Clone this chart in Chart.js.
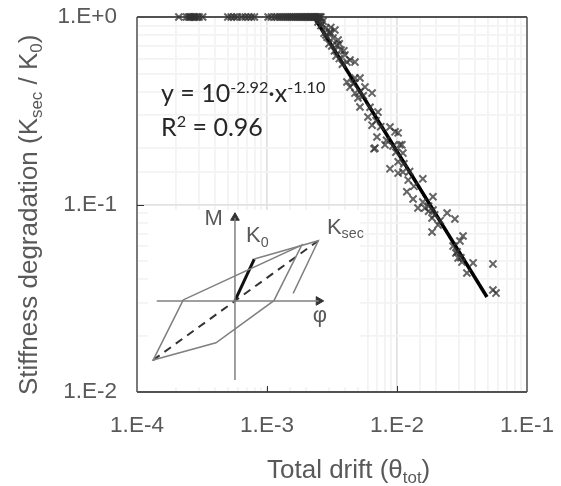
<!DOCTYPE html>
<html>
<head>
<meta charset="utf-8">
<title>Stiffness degradation</title>
<script src="https://cdn.jsdelivr.net/npm/chart.js@4"></script>
<style>
  html, body { margin: 0; padding: 0; background: #fff; }
  #wrap { position: relative; width: 561px; height: 486px; }
</style>
</head>
<body>
<div id="wrap"><canvas id="grafico" width="561" height="486"></canvas></div>
<script>
// drift values along the plateau (degradation = 1)
const plateauDrift = [2.1e-4, 2.4e-4, 2.5e-4, 2.55e-4, 2.6e-4, 2.7e-4, 2.75e-4, 2.8e-4, 2.9e-4, 3.0e-4, 3.2e-4,
  5.0e-4, 5.3e-4, 5.6e-4, 5.9e-4, 6.4e-4, 6.8e-4, 7.2e-4, 7.6e-4, 8.0e-4,
  1.02e-3, 1.08e-3, 1.15e-3, 1.2e-3, 1.25e-3, 1.3e-3, 1.35e-3, 1.4e-3, 1.45e-3, 1.5e-3, 1.55e-3, 1.6e-3, 1.65e-3, 1.7e-3, 1.75e-3, 1.8e-3, 1.85e-3, 1.9e-3, 1.95e-3, 2.0e-3, 2.05e-3, 2.1e-3, 2.15e-3, 2.2e-3, 2.25e-3, 2.3e-3, 2.35e-3, 2.4e-3, 2.45e-3, 2.5e-3, 2.55e-3, 2.6e-3];

// drift and degradation of the falling part, same order in both
const tailDrift = [2.47e-3, 2.65e-3, 2.84e-3, 3.05e-3, 3.22e-3, 3.33e-3, 2.84e-3, 3.05e-3, 3.45e-3, 3.52e-3, 3.71e-3, 3.98e-3, 4.35e-3,
  4.12e-3, 4.75e-3, 4.12e-3, 4.75e-3, 5.19e-3, 5.67e-3, 6.43e-3, 4.35e-3, 4.75e-3, 5.19e-3, 5.01e-3, 7.14e-3, 5.98e-3, 6.43e-3,
  8.83e-3, 9.66e-3, 7.01e-3, 6.77e-3, 8.09e-3, 0.0109, 0.0102, 0.0111, 6.65e-3, 9.31e-3, 0.0105, 0.0102, 8.83e-3, 0.0102, 0.0111,
  0.0122, 0.0158, 0.0119, 0.0133, 0.0189, 0.0158, 0.0145, 0.0164, 0.0189, 0.0186, 0.0207, 0.0186, 0.0243, 0.0279, 0.0322, 0.0305,
  0.0284, 0.0295, 0.0316, 0.0385, 0.0345, 0.0547, 0.0547, 0.0578,
  2.6e-3, 2.75e-3, 2.9e-3, 3.0e-3, 3.15e-3, 3.3e-3, 3.4e-3, 3.6e-3, 3.8e-3, 2.5e-3, 2.7e-3, 3.1e-3, 3.6e-3, 3.9e-3,
  5.2e-3, 5.5e-3, 4.6e-3, 6.2e-3, 6.9e-3, 7.5e-3, 8.3e-3, 9.8e-3, 0.0113, 0.0125, 0.0135, 0.0175, 0.0195, 0.0175, 0.0215, 0.027, 0.029, 0.031];
const tailDegradation = [0.940, 0.918, 0.874, 0.822, 0.773, 0.852, 0.802, 0.832, 0.709, 0.754, 0.667, 0.627, 0.590,
  0.575, 0.575, 0.450, 0.473, 0.473, 0.423, 0.393, 0.423, 0.393, 0.331, 0.370, 0.311, 0.293, 0.265,
  0.259, 0.244, 0.229, 0.200, 0.208, 0.208, 0.241, 0.188, 0.198, 0.205, 0.208, 0.169, 0.155, 0.147, 0.149,
  0.135, 0.137, 0.117, 0.107, 0.110, 0.103, 0.0958, 0.0958, 0.0935, 0.0847, 0.0778, 0.0713, 0.0901, 0.0837, 0.0679, 0.0639,
  0.0551, 0.0519, 0.0493, 0.0488, 0.0431, 0.0482, 0.0350, 0.0337,
  0.90, 0.82, 0.78, 0.72, 0.70, 0.66, 0.62, 0.60, 0.56, 0.97, 0.95, 0.88, 0.72, 0.66,
  0.40, 0.38, 0.44, 0.33, 0.28, 0.26, 0.22, 0.19, 0.165, 0.15, 0.125, 0.098, 0.088, 0.092, 0.082, 0.06, 0.056, 0.052];

// power-law fit, end points
const fitDrift = [2.3e-3, 0.0492];
const fitDegradation = [1, 0.0321];

// hysteresis sketch
const loopDrift = [2.27e-4, 1.85e-3, 1.13e-3, 4.05e-4, 1.33e-4, 2.27e-4];
const loopMoment = [0.0310, 0.0608, 0.0307, 0.0183, 0.0148, 0.0310];
const reloadDrift = [7.98e-4, 2.48e-3, 1.59e-3];
const reloadMoment = [0.0512, 0.0641, 0.0336];
const k0Drift = [5.67e-4, 7.98e-4];
const k0Moment = [0.0307, 0.0512];
const ksecDrift = [1.33e-4, 2.48e-3];
const ksecMoment = [0.0148, 0.0641];
const phiAxisDrift = [1.42e-4, 2.5e-3];
const phiAxisMoment = [0.0306, 0.0306];
const mAxisDrift = [5.67e-4, 5.67e-4];
const mAxisMoment = [0.0116, 0.085];

const xTickLabels = ['1.E-4', '1.E-3', '1.E-2', '1.E-1'];
const yTickLabels = ['1.E-2', '1.E-1', '1.E+0'];

const toPoints = (xs, ys) => xs.map((x, i) => ({ x, y: ys[i] }));
const isPower = v => Math.abs(Math.log10(v) - Math.round(Math.log10(v))) < 1e-6;
const AXIS_FONT = '"Liberation Sans", Arial, sans-serif';
const NOTE_FONT = 'Lato, "Open Sans", sans-serif';

// writes a list of [text, 'sup'|'sub'|undefined] one after the other
function drawRuns(ctx, runs, x, y, size, family, color) {
  ctx.fillStyle = color;
  ctx.textBaseline = 'alphabetic';
  ctx.textAlign = 'left';
  runs.forEach(([text, mode]) => {
    const s = mode ? size * 0.65 : size;
    const dy = mode === 'sup' ? -size * 0.36 : mode === 'sub' ? size * 0.2 : 0;
    ctx.font = s + 'px ' + family;
    ctx.fillText(text, x, y + dy);
    x += ctx.measureText(text).width;
  });
  return x;
}

const decor = {
  id: 'decor',
  beforeDatasetsDraw(chart) {
    const { ctx, scales: { x, y }, chartArea: a } = chart;
    ctx.save();
    // white back of the sketch, it hides the grid
    ctx.fillStyle = '#fff';
    const bx = x.getPixelForValue(1.21e-4), tx = x.getPixelForValue(5.2e-3);
    const by = y.getPixelForValue(0.0935), ty = y.getPixelForValue(0.0106);
    ctx.fillRect(bx, by, tx - bx, ty - by);
    // frame
    ctx.strokeStyle = '#222';
    ctx.lineWidth = 1.5;
    ctx.beginPath();
    ctx.moveTo(a.left, a.top);
    ctx.lineTo(a.right, a.top);
    ctx.moveTo(a.left, a.bottom);
    ctx.lineTo(a.right, a.bottom);
    ctx.stroke();
    ctx.strokeStyle = '#555';
    ctx.lineWidth = 1.5;
    ctx.beginPath();
    ctx.moveTo(a.left, a.top);
    ctx.lineTo(a.left, a.bottom);
    ctx.moveTo(a.right, a.top);
    ctx.lineTo(a.right, a.bottom);
    ctx.stroke();
    // major ticks, pointing inwards
    ctx.strokeStyle = '#333';
    ctx.lineWidth = 1;
    ctx.beginPath();
    [1e-3, 1e-2].forEach(v => {
      const p = Math.round(x.getPixelForValue(v)) + 0.5;
      ctx.moveTo(p, a.bottom);
      ctx.lineTo(p, a.bottom - 6);
    });
    const p = Math.round(y.getPixelForValue(0.1)) + 0.5;
    ctx.moveTo(a.left, p);
    ctx.lineTo(a.left + 7, p);
    ctx.stroke();
    ctx.restore();
  },
  afterDraw(chart) {
    const { ctx, scales: { x, y } } = chart;
    const gris = '#595959';
    ctx.save();
    // axis titles
    drawRuns(ctx, [['Total drift (θ'], ['tot', 'sub'], [')']], 267, 478, 26, AXIS_FONT, gris);
    ctx.translate(37, 395);
    ctx.rotate(-Math.PI / 2);
    drawRuns(ctx, [['Stiffness degradation (K'], ['sec', 'sub'], [' / K'], ['0', 'sub'], [')']], 0, 0, 26, AXIS_FONT, gris);
    ctx.restore();
    ctx.save();
    // fit equation
    const texto = '#262626';
    drawRuns(ctx, [['y = 10'], ['-2.92', 'sup'], ['·x'], ['-1.10', 'sup']], 161, 102, 25, NOTE_FONT, texto);
    drawRuns(ctx, [['R'], ['2', 'sup'], [' = 0.96']], 161, 136, 25, NOTE_FONT, texto);
    // sketch labels
    drawRuns(ctx, [['M']], x.getPixelForValue(3.3e-4), y.getPixelForValue(0.0935) + 15, 22, AXIS_FONT, gris);
    drawRuns(ctx, [['K'], ['0', 'sub']], x.getPixelForValue(6.9e-4), y.getPixelForValue(0.0635) + 1, 22, AXIS_FONT, gris);
    drawRuns(ctx, [['K'], ['sec', 'sub']], x.getPixelForValue(2.89e-3), y.getPixelForValue(0.0735) + 4, 22, AXIS_FONT, gris);
    drawRuns(ctx, [['φ']], x.getPixelForValue(2.25e-3), y.getPixelForValue(0.0235), 22, AXIS_FONT, gris);
    ctx.restore();
  }
};

const lineSet = (xs, ys, color, width, extra) => Object.assign({
  type: 'line',
  data: toPoints(xs, ys),
  borderColor: color,
  borderWidth: width,
  pointRadius: 0,
  fill: false,
  tension: 0
}, extra || {});

new Chart(document.getElementById('grafico'), {
  type: 'scatter',
  data: {
    datasets: [
      // sketch first, the crosses never reach it
      lineSet(phiAxisDrift, phiAxisMoment, '#7f7f7f', 1.5),
      lineSet(mAxisDrift, mAxisMoment, '#7f7f7f', 1.5),
      lineSet(loopDrift, loopMoment, '#808080', 1.5),
      lineSet(reloadDrift, reloadMoment, '#808080', 1.5),
      lineSet(ksecDrift, ksecMoment, '#333', 2, { borderDash: [8, 6] }),
      lineSet(k0Drift, k0Moment, '#111', 3),
      { data: [{ x: phiAxisDrift[1], y: phiAxisMoment[1] }], pointStyle: 'triangle', rotation: 90, pointRadius: 5, backgroundColor: '#333', borderColor: '#333' },
      { data: [{ x: mAxisDrift[1], y: mAxisMoment[1] }], pointStyle: 'triangle', pointRadius: 5, backgroundColor: '#333', borderColor: '#333' },
      { data: plateauDrift.map(x => ({ x, y: 1 })), pointStyle: 'crossRot', pointRadius: 5, borderWidth: 2, borderColor: 'rgba(50,50,50,0.75)', clip: false },
      { data: toPoints(tailDrift, tailDegradation), pointStyle: 'crossRot', pointRadius: 5, borderWidth: 2, borderColor: 'rgba(50,50,50,0.75)', clip: false },
      lineSet(fitDrift, fitDegradation, '#000', 3.5)
    ]
  },
  options: {
    responsive: false,
    animation: false,
    layout: { padding: { top: 17, right: 34 } },
    plugins: { legend: { display: false }, tooltip: { enabled: false } },
    scales: {
      x: {
        type: 'logarithmic',
        min: 1e-4,
        max: 1e-1,
        // fixed box, so the long labels do not push the plot area
        afterFit: s => { s.height = 94; s.paddingLeft = 0; s.paddingRight = 0; },
        border: { display: false },
        grid: {
          drawTicks: false,
          color: c => isPower(c.tick.value) ? '#e2e2e2' : '#f3f3f3',
          lineWidth: 1.8
        },
        ticks: {
          autoSkip: false,
          maxRotation: 0,
          padding: 20,
          color: '#595959',
          font: { family: AXIS_FONT, size: 22.5 },
          callback: v => isPower(v) ? xTickLabels[Math.round(Math.log10(v)) + 4] : ''
        }
      },
      y: {
        type: 'logarithmic',
        min: 1e-2,
        max: 1,
        afterFit: s => { s.width = 137; s.paddingTop = 0; s.paddingBottom = 0; },
        border: { display: false },
        grid: {
          drawTicks: false,
          color: c => isPower(c.tick.value) ? '#e2e2e2' : '#f3f3f3',
          lineWidth: 1.8
        },
        ticks: {
          autoSkip: false,
          padding: 20,
          color: '#595959',
          font: { family: AXIS_FONT, size: 22.5 },
          callback: v => isPower(v) ? yTickLabels[Math.round(Math.log10(v)) + 2] : ''
        }
      }
    }
  },
  plugins: [decor]
});
</script>
</body>
</html>
